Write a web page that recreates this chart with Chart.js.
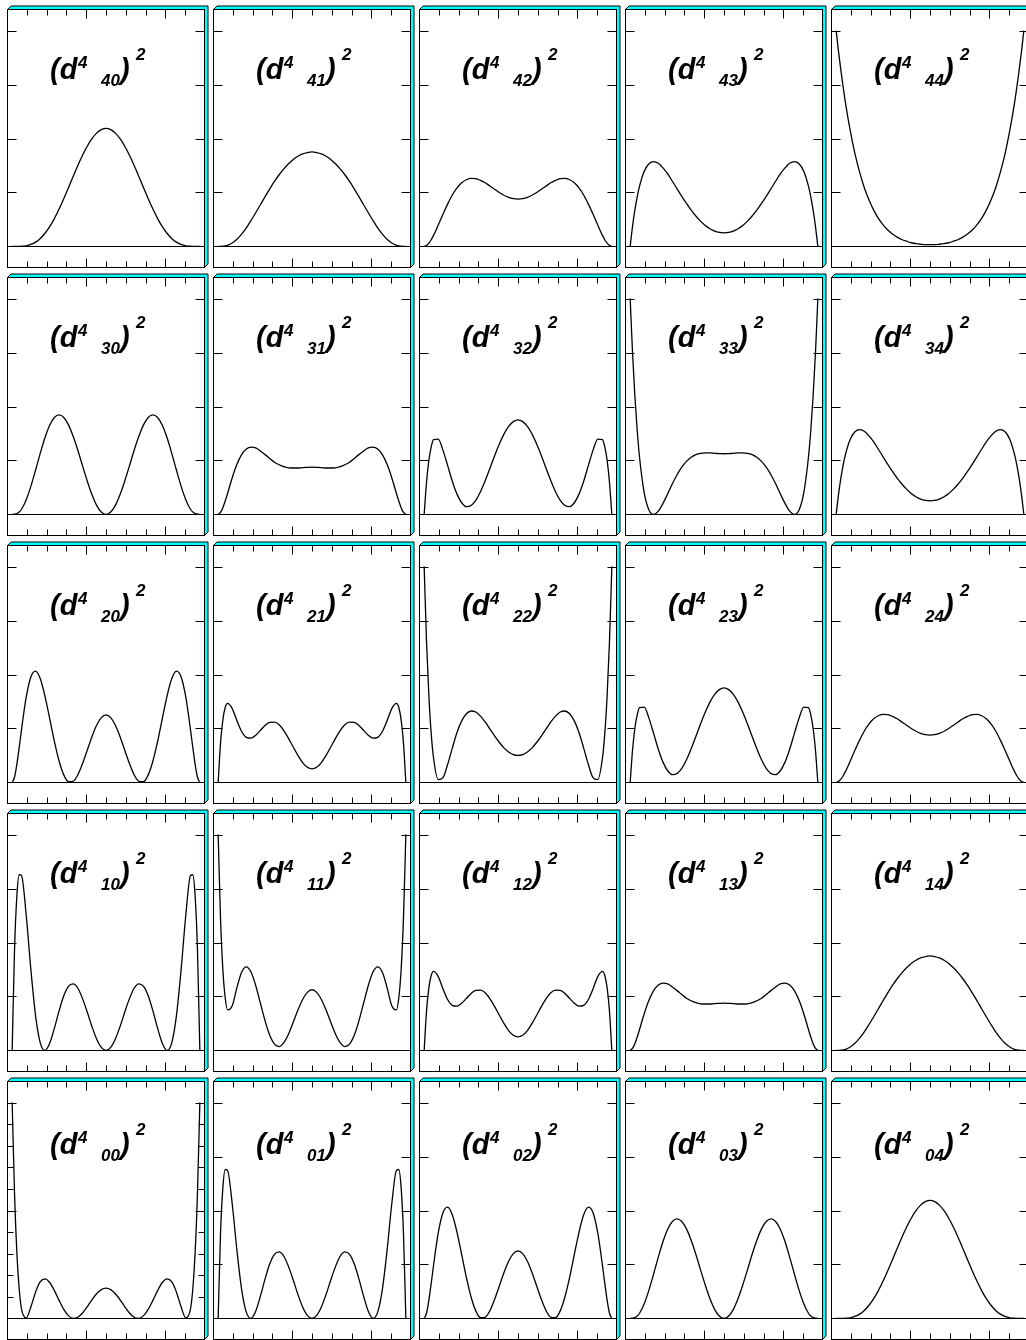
<!DOCTYPE html>
<html>
<head>
<meta charset="utf-8">
<script src="https://cdn.jsdelivr.net/npm/chart.js@4.4.1/dist/chart.umd.min.js"></script>
<style>
  html, body { margin: 0; padding: 0; background: #fff; overflow: hidden; }
  #grid { position: relative; width: 1026px; height: 1340px; overflow: hidden; }
  .panel { position: absolute; width: 216px; height: 278px; }
  .panel canvas { position: absolute; left: 0; top: 0; }
  .lbl { position: absolute; font-family: "Liberation Sans", Arial, sans-serif; font-weight: bold;
         font-style: italic; color: #000; white-space: nowrap; line-height: 1; }
</style>
</head>
<body>
<div id="grid"></div>
<script>
// cos(beta) sample points shared by every curve
const X = [-1, -0.975, -0.95, -0.925, -0.9, -0.85, -0.8, -0.75, -0.7, -0.65, -0.6, -0.55, -0.5, -0.45, -0.4,
  -0.35, -0.3, -0.25, -0.2, -0.15, -0.1, -0.05, 0, 0.05, 0.1, 0.15, 0.2, 0.25, 0.3, 0.35, 0.4, 0.45, 0.5,
  0.55, 0.6, 0.65, 0.7, 0.75, 0.8, 0.85, 0.9, 0.925, 0.95, 0.975, 1];

// squared d^4 functions, one list per index pair
const D44 = [1, .904, .817, .737, .663, .536, .430, .344, .272, .215, .168, .130, .100, .076, .058, .043, .032, .024, .017, .013, .010, .008,
  .008, .008, .010, .013, .017, .024, .032, .043, .058, .076, .100, .130, .168, .215, .272, .344, .430, .536, .663, .737, .817, .904, 1];
const D43 = [0, .092, .168, .230, .279, .348, .383, .393, .385, .364, .336, .302, .267, .232, .199, .168, .141, .117, .097, .082, .071, .065,
  .063, .065, .071, .082, .097, .117, .141, .168, .199, .232, .267, .302, .336, .364, .385, .393, .383, .348, .279, .230, .168, .092, 0];
const D42 = [0, .004, .015, .031, .051, .099, .149, .196, .238, .271, .295, .309, .315, .314, .306, .295, .280, .265, .250, .237, .227, .221,
  .219, .221, .227, .237, .250, .265, .280, .295, .306, .314, .315, .309, .295, .271, .238, .196, .149, .099, .051, .031, .015, .004, 0];
const D41 = [0, 0, .001, .002, .005, .016, .033, .057, .086, .120, .156, .193, .231, .267, .301, .332, .359, .383, .403, .418, .429, .435,
  .438, .435, .429, .418, .403, .383, .359, .332, .301, .267, .231, .193, .156, .120, .086, .057, .033, .016, .005, .002, .001, 0, 0];
const D40 = [0, 0, 0, 0, .001, .003, .009, .020, .037, .061, .092, .129, .173, .221, .272, .324, .375, .422, .464, .499, .525, .541,
  .547, .541, .525, .499, .464, .422, .375, .324, .272, .221, .173, .129, .092, .061, .037, .020, .009, .003, .001, 0, 0, 0, 0];
const D33 = [1, .751, .550, .390, .265, .100, .021, 0, .015, .051, .096, .142, .184, .219, .246, .265, .277, .283, .285, .285, .283, .282,
  .281, .282, .283, .285, .285, .283, .277, .265, .246, .219, .184, .142, .096, .051, .015, 0, .021, .100, .265, .390, .550, .751, 1];
const D32 = [0, .148, .250, .313, .347, .349, .298, .227, .154, .094, .054, .036, .041, .065, .105, .156, .213, .271, .325, .372, .408, .430,
  .438, .430, .408, .372, .325, .271, .213, .156, .105, .065, .041, .036, .054, .094, .154, .227, .298, .349, .347, .313, .250, .148, 0];
const D31 = [0, .009, .031, .062, .097, .170, .232, .277, .303, .312, .308, .294, .277, .259, .242, .230, .221, .216, .215, .215, .217, .218,
  .219, .218, .217, .215, .215, .216, .221, .230, .242, .259, .277, .294, .308, .312, .303, .277, .232, .170, .097, .062, .031, .009, 0];
const D30 = [0, .001, .004, .011, .024, .068, .131, .206, .284, .356, .413, .449, .461, .449, .415, .362, .297, .225, .155, .092, .042, .011,
  0, .011, .042, .092, .155, .225, .297, .362, .415, .449, .461, .449, .413, .356, .284, .206, .131, .068, .024, .011, .004, .001, 0];
const D22 = [1, .654, .403, .227, .113, .013, .022, .083, .159, .231, .285, .318, .331, .326, .307, .280, .248, .216, .186, .160, .141, .129,
  .125, .129, .141, .160, .186, .216, .248, .280, .307, .326, .331, .318, .285, .231, .159, .083, .022, .013, .113, .227, .403, .654, 1];
const D21 = [0, .181, .290, .347, .366, .342, .286, .236, .209, .205, .219, .241, .264, .278, .279, .267, .240, .204, .164, .125, .092, .070,
  .063, .070, .092, .125, .164, .204, .240, .267, .279, .278, .264, .241, .219, .205, .209, .236, .286, .342, .366, .347, .290, .181, 0];
const D20 = [0, .024, .084, .162, .246, .396, .490, .516, .480, .399, .296, .190, .099, .035, .003, .005, .035, .087, .149, .212, .265, .300,
  .313, .300, .265, .212, .149, .087, .035, .005, .003, .035, .099, .190, .296, .399, .480, .516, .490, .396, .246, .162, .084, .024, 0];
const D11 = [1, .614, .375, .244, .188, .207, .291, .362, .387, .363, .301, .219, .137, .070, .029, .018, .036, .076, .130, .187, .236, .269,
  .281, .269, .236, .187, .130, .076, .036, .018, .029, .070, .137, .219, .301, .363, .387, .362, .291, .207, .188, .244, .375, .614, 1];
const D10 = [0, .463, .714, .814, .810, .625, .372, .159, .034, 0, .033, .103, .183, .253, .297, .308, .288, .240, .178, .111, .053, .014,
  0, .014, .053, .111, .178, .240, .288, .308, .297, .253, .183, .103, .033, 0, .034, .159, .372, .625, .810, .814, .714, .463, 0];
const D01 = [0, .392, .605, .690, .686, .530, .315, .135, .029, 0, .033, .103, .183, .253, .297, .308, .288, .240, .178, .111, .053, .014,
  0, .014, .053, .111, .178, .240, .288, .308, .297, .253, .183, .103, .033, 0, .029, .135, .315, .530, .686, .690, .605, .392, 0];
const D00 = [2, 1.167, .614, .273, .086, .005, .109, .245, .340, .367, .333, .258, .167, .084, .026, .001, .011, .050, .108, .172, .228, .267,
  .281, .267, .228, .172, .108, .050, .011, .001, .026, .084, .167, .258, .333, .367, .340, .245, .109, .005, .086, .273, .614, 1.167, 2];

// panel key -> curve (pairs that plot the same values share a list)
const CURVES = {
  '44': D44, '43': D43, '42': D42, '41': D41, '40': D40,
  '34': D43, '33': D33, '32': D32, '31': D31, '30': D30,
  '24': D42, '23': D32, '22': D22, '21': D21, '20': D20,
  '14': D41, '13': D31, '12': D21, '11': D11, '10': D10,
  '04': D40, '03': D30, '02': D20, '01': D01, '00': D00
};

// grid order: first index by row (top to bottom), second index by column
const ROW_M = [4, 3, 2, 1, 0];
const COL_M = [0, 1, 2, 3, 4];

// tick marks along the cos(beta) axis and the value axis
const X_TICKS = [-0.844, -0.633, -0.422, -0.211, 0, 0.211, 0.422, 0.633, 0.844];
const X_MAJOR = [-0.211, 0.633];
const Y_TICKS = [0, 0.25, 0.5, 0.75, 1];
const Y_MAJOR = [0, 0.25, 0.5, 0.75, 1];
const Y_TICKS_WIDE = [0, 0.2, 0.4, 0.6, 0.8, 1, 1.2, 1.4, 1.6, 1.8, 2];
const Y_MAJOR_WIDE = [0, 1, 2];

const PITCH_X = 206, PITCH_Y = 268;
const CYAN = '#00ffff';

function framePlugin(yTicks, yMajor) {
  return {
    id: 'panelFrame',
    beforeDraw(chart) {
      const { ctx, chartArea: a } = chart;
      const L = a.left + 0.5, R = a.right - 0.5, T = a.top + 0.5, B = a.bottom - 0.5, d = 3.5;
      ctx.save();
      // raised edge along the top and right side
      ctx.beginPath();
      ctx.moveTo(L, T); ctx.lineTo(L + d, T - d); ctx.lineTo(R + d, T - d);
      ctx.lineTo(R + d, B - d); ctx.lineTo(R, B); ctx.lineTo(R, T); ctx.closePath();
      ctx.fillStyle = CYAN; ctx.fill();
      ctx.strokeStyle = '#000'; ctx.lineWidth = 1; ctx.stroke();
      ctx.fillStyle = '#fff';
      ctx.fillRect(a.left, a.top, a.width, a.height);
      // zero line
      const y0 = Math.round(chart.scales.y.getPixelForValue(0)) + 0.5;
      ctx.beginPath(); ctx.moveTo(a.left, y0); ctx.lineTo(a.right, y0);
      ctx.strokeStyle = '#000'; ctx.lineWidth = 1; ctx.stroke();
      ctx.restore();
    },
    afterDraw(chart) {
      const { ctx, chartArea: a, scales } = chart;
      const L = a.left + 0.5, R = a.right - 0.5, T = a.top + 0.5, B = a.bottom - 0.5;
      ctx.save();
      ctx.strokeStyle = '#000'; ctx.lineWidth = 1;
      ctx.beginPath();
      X_TICKS.forEach(v => {
        const px = Math.round(scales.x.getPixelForValue(v)) + 0.5;
        const len = X_MAJOR.includes(v) ? 9 : 6;
        ctx.moveTo(px, T); ctx.lineTo(px, T + len);
        ctx.moveTo(px, B); ctx.lineTo(px, B - len);
      });
      yTicks.forEach(v => {
        const py = Math.round(scales.y.getPixelForValue(v)) + 0.5;
        const len = yMajor.includes(v) ? 9 : 6;
        ctx.moveTo(L, py); ctx.lineTo(L + len, py);
        ctx.moveTo(R, py); ctx.lineTo(R - len, py);
      });
      ctx.stroke();
      ctx.strokeRect(L, T, R - L, B - T);
      ctx.restore();
    }
  };
}

// pieces of the panel caption: text, font size, left, baseline (panel-local px)
function captionParts(m, mp, dy) {
  return [
    { t: '(d', size: 29, x: 50, base: 86 + dy },
    { t: '4', size: 17, x: 78, base: 74 + dy },
    { t: String(m) + String(mp), size: 17, x: 101, base: 92 + dy },
    { t: ')', size: 29, x: 120, base: 86 + dy },
    { t: '2', size: 17, x: 136, base: 66 + dy }
  ];
}

const grid = document.getElementById('grid');
ROW_M.forEach((m, r) => {
  COL_M.forEach((mp, c) => {
    const wrap = document.createElement('div');
    wrap.className = 'panel';
    wrap.style.left = (c * PITCH_X) + 'px';
    wrap.style.top = (r * PITCH_Y - 6) + 'px';
    const cv = document.createElement('canvas');
    cv.width = 216; cv.height = 278;
    cv.style.width = '216px'; cv.style.height = '278px';
    wrap.appendChild(cv);
    grid.appendChild(wrap);

    const key = String(m) + String(mp);
    const vals = CURVES[key];
    const wide = key === '00';
    const yMax = wide ? 2.2 : 1.1, yMin = wide ? -0.2 : -0.1;

    new Chart(cv, {
      type: 'line',
      data: {
        datasets: [{
          data: X.map((x, i) => ({ x: x, y: vals[i] })),
          borderColor: '#000', borderWidth: 1.3, pointRadius: 0,
          cubicInterpolationMode: 'monotone', fill: false
        }]
      },
      options: {
        responsive: false, animation: false, devicePixelRatio: 1, events: [],
        layout: { padding: { left: 7, top: 15, right: 11, bottom: 4 } },
        plugins: { legend: { display: false }, tooltip: { enabled: false }, title: { display: false } },
        scales: {
          x: { type: 'linear', min: -1.055, max: 1.055, display: false },
          y: { type: 'linear', min: yMin, max: yMax, display: false }
        }
      },
      plugins: [framePlugin(wide ? Y_TICKS_WIDE : Y_TICKS, wide ? Y_MAJOR_WIDE : Y_MAJOR)]
    });

    captionParts(m, mp, r === 4 ? 3 : 0).forEach(p => {
      const s = document.createElement('span');
      s.className = 'lbl';
      s.textContent = p.t;
      s.style.fontSize = p.size + 'px';
      s.style.left = p.x + 'px';
      s.style.top = (p.base - 0.8465 * p.size) + 'px';
      wrap.appendChild(s);
    });
  });
});
</script>
</body>
</html>
